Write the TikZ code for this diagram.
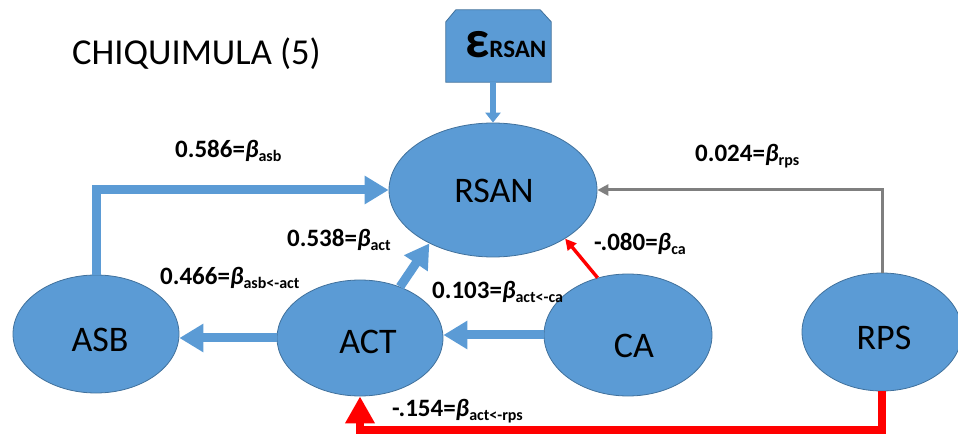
\documentclass[tikz,border=0pt]{standalone}
\usepackage{fontspec}
\setmainfont{Carlito}
\usetikzlibrary{shapes.geometric,arrows.meta}

\definecolor{nodeblue}{HTML}{5B9BD5}
\definecolor{nodeedge}{HTML}{41719C}
\definecolor{pathred}{HTML}{FF0000}
\definecolor{pathgray}{HTML}{7F7F7F}

% path coefficient: value, bold italic beta, lowered subscript
\newcommand{\coef}[2]{\textbf{#1=}\textbf{\textit{β}}\raisebox{-4pt}{\fontsize{16}{16}\selectfont\bfseries #2}}

\begin{document}
\begin{tikzpicture}[x=1pt,y=-1pt,
  latent/.style={ellipse, fill=nodeblue, draw=nodeedge, line width=0.8pt, inner sep=0pt},
  vname/.style={anchor=base, inner sep=0pt, font=\fontsize{36}{36}\selectfont},
  coeflabel/.style={anchor=base west, inner sep=0pt, font=\fontsize{25}{25}\selectfont},
  thickblue/.style={draw=nodeblue, line width=9pt, -{Triangle[length=24pt,width=27pt]}},
  thickred/.style={draw=pathred, line width=8pt, -{Triangle[length=27pt,width=28pt]}},
  thinred/.style={draw=pathred, line width=3.4pt, -{Triangle[length=11pt,width=11pt]}},
  thingray/.style={draw=pathgray, line width=3pt, -{Triangle[length=11pt,width=11pt]}},
  errarrow/.style={draw=nodeblue, line width=5.5pt, -{Triangle[length=10pt,width=15pt]}}
]
\useasboundingbox (0,0) rectangle (958,435);

% title
\node[anchor=base west, inner sep=0pt, font=\fontsize{36.5}{36.5}\selectfont] (title) at (72,65) {CHIQUIMULA (5)};

% latent variables
\node[latent, minimum width=208pt, minimum height=134pt] (RSAN) at (493,190) {};
\node[latent, minimum width=166pt, minimum height=118pt] (ASB) at (96,334) {};
\node[latent, minimum width=166pt, minimum height=116pt] (ACT) at (360,338) {};
\node[latent, minimum width=168pt, minimum height=122pt] (CA) at (628,335) {};
\node[latent, minimum width=160pt, minimum height=118pt] (RPS) at (882,332) {};

\node[vname] (RSANtxt) at (494,203) {RSAN};
\node[vname] (ASBtxt) at (100,352) {ASB};
\node[vname] (ACTtxt) at (368,353) {ACT};
\node[vname] (CAtxt) at (634,358) {CA};
\node[vname] (RPStxt) at (884,349) {RPS};

% error term box with cut-off top corners
\node[rectangle, inner sep=0pt, minimum width=105pt, minimum height=72pt] (eps) at (498.5,46) {};
\fill[nodeblue, draw=nodeedge, line width=0.8pt]
  (eps.south west) -- ([yshift=-12pt]eps.north west) -- ([xshift=10pt]eps.north west)
  -- ([xshift=-11pt]eps.north east) -- ([yshift=-12pt]eps.north east) -- (eps.south east) -- cycle;
\node[anchor=base west, inner sep=0pt] (epstxt) at (465,58)
  {{\fontsize{53}{53}\selectfont\bfseries ε}{\fontsize{25}{25}\selectfont\bfseries RSAN}};

% structural paths
\draw[errarrow] (RSAN.north |- eps.south) -- (RSAN.north);
\draw[thickblue] (ASB.north) |- (RSAN.west);
\draw[thickblue] (ACT.52) -- (RSAN.220);
\draw[thickblue] (ACT.west) -- (ACT.west -| ASB.east);
\draw[thickblue] (CA.west) -- (CA.west -| ACT.east);
\draw[thinred] (CA.118) -- (RSAN.326);
\draw[thingray] (RPS.north) |- (RSAN.east);
\draw[thickred] (RPS.south) -- ++(0,39) -| (ACT.south);

% coefficients
\node[coeflabel] (bASB) at (175,158) {\coef{0.586}{asb}};
\node[coeflabel] (bRPS) at (695,162) {\coef{0.024}{rps}};
\node[coeflabel] (bACT) at (287,247) {\coef{0.538}{act}};
\node[coeflabel] (bCA) at (594,251) {\coef{-.080}{ca}};
\node[coeflabel] (bASBACT) at (160,285) {\coef{0.466}{asb<-act}};
\node[coeflabel] (bACTCA) at (432,299) {\coef{0.103}{act<-ca}};
\node[coeflabel] (bACTRPS) at (392,416) {\coef{-.154}{act<-rps}};
\end{tikzpicture}
\end{document}
